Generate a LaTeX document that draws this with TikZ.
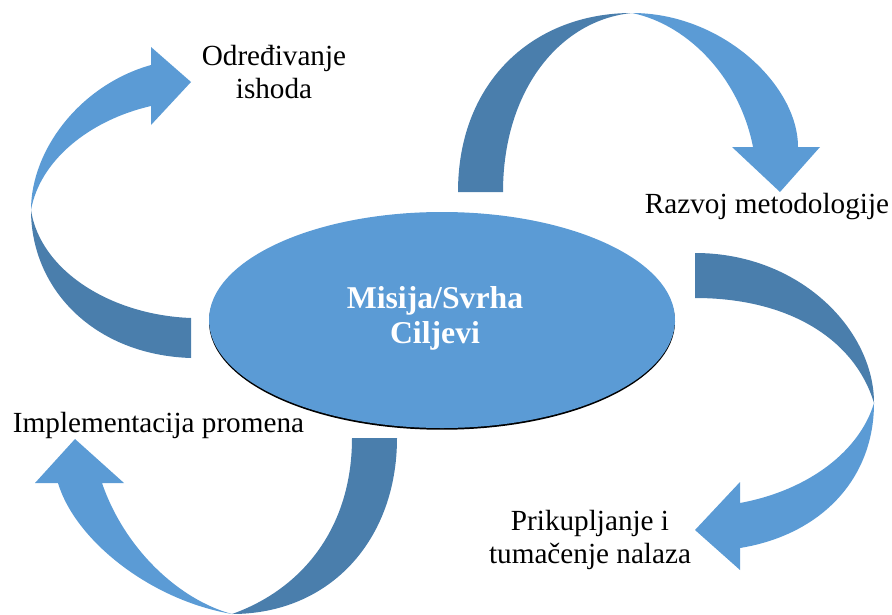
\documentclass[tikz,border=0pt]{standalone}
\usepackage{fontspec}
\setmainfont{Liberation Serif}
\usetikzlibrary{shapes.geometric,shadows}
\definecolor{cycblue}{RGB}{91,155,213}
\definecolor{cycdark}{RGB}{74,126,172}
\tikzset{
  rbnlit/.style={fill=cycblue,draw=none},
  rbndark/.style={fill=cycdark,draw=none},
  lbl/.style={font=\fontsize{21.9}{24.75}\selectfont,align=center,
              anchor=base,inner sep=0pt},
  core/.style={ellipse,fill=cycblue,minimum width=349.5pt,
               minimum height=162pt,inner sep=0pt,
               drop shadow={shadow xshift=0pt,shadow yshift=-1.3pt,
                            fill=black,opacity=1}},
  coretxt/.style={font=\fontsize{23.8}{26.25}\selectfont\bfseries,
                  text=white,align=center,anchor=base,inner sep=0pt},
}
\begin{document}
\begin{tikzpicture}[x=0.75pt,y=-0.75pt]
  \useasboundingbox (0,0) rectangle (892,614);
  % ribbon to Odredjivanje ishoda
  \fill[rbndark] (191,358) .. controls (95,355) and (31,290) .. (31,210)
    .. controls (40,270) and (110,315) .. (191,318) -- cycle;
  \fill[rbnlit] (31,210) .. controls (31,150) and (80,85) .. (151,65)
    -- (151,47) -- (191,82) -- (151,125) -- (151,106)
    .. controls (90,120) and (40,160) .. (31,210) -- cycle;
  % ribbon to Razvoj metodologije
  \fill[rbndark] (458,192) .. controls (458,80) and (535,13) .. (632,13)
    .. controls (560,20) and (503,90) .. (503,192) -- cycle;
  \fill[rbnlit] (632,13) .. controls (722,13) and (798,85) .. (798,147)
    -- (820,147) -- (780,192) -- (732,147) -- (753,147)
    .. controls (740,80) and (690,25) .. (632,13) -- cycle;
  % ribbon to Prikupljanje
  \fill[rbndark] (695,253) .. controls (800,253) and (874,330) .. (874,403)
    .. controls (855,340) and (790,298) .. (695,298) -- cycle;
  \fill[rbnlit] (874,403) .. controls (874,480) and (820,535) .. (740,548)
    -- (740,570) -- (695,530) -- (740,482) -- (740,503)
    .. controls (810,490) and (860,450) .. (874,403) -- cycle;
  % ribbon to Implementacija
  \fill[rbndark] (397,438) .. controls (397,540) and (330,614) .. (232,614)
    .. controls (300,590) and (352,530) .. (352,438) -- cycle;
  \fill[rbnlit] (232,614) .. controls (150,600) and (75,540) .. (58,483)
    -- (35,483) -- (75,439) -- (124,483) -- (102,483)
    .. controls (125,550) and (180,600) .. (232,614) -- cycle;

  \node[core] (core) at (442,320) {};
  \node[coretxt] (goal) at (435,343) {Misija/Svrha\\Ciljevi};

  \node[lbl] (ishod) at (274,98) {Određivanje\\ishoda};
  \node[lbl] (metod) at (767,213) {Razvoj metodologije};
  \node[lbl] (nalaz) at (590,563) {Prikupljanje i\\tumačenje nalaza};
  \node[lbl] (promj) at (158.5,432) {Implementacija promena};
\end{tikzpicture}
\end{document}
